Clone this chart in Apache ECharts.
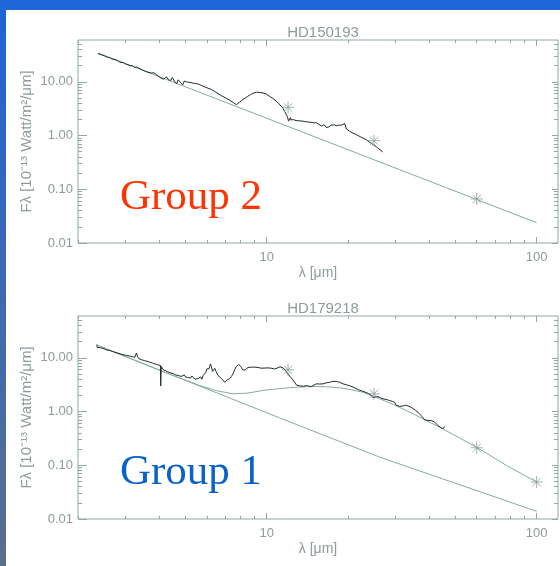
<!DOCTYPE html>
<html>
<head>
<meta charset="utf-8">
<script src="https://cdn.jsdelivr.net/npm/echarts@6/dist/echarts.min.js"></script>
<style>
  html, body { margin: 0; padding: 0; }
  #frame {
    position: relative; width: 560px; height: 566px; overflow: hidden;
    background: linear-gradient(to bottom, #1d63d7 0%, #3a68b8 45%, #5a6e8c 100%);
  }
  #topbar { position: absolute; left: 0; top: 0; width: 560px; height: 10px; background: #1e66d9; }
  #panel { position: absolute; left: 6px; top: 10px; width: 554px; height: 556px; background: #ffffff; }
  #chart { position: absolute; left: 0; top: 0; width: 560px; height: 566px; }
</style>
</head>
<body>
<div id="frame">
  <div id="topbar"></div>
  <div id="panel"></div>
  <div id="chart"></div>
</div>
<script>
// ---- axis ticks ----
const waveMajorTicks = [10, 100];
const waveMinorTicks = [2, 3, 4, 5, 6, 7, 8, 9, 20, 30, 40, 50, 60, 70, 80, 90];
const fluxMajorTicks = [0.01, 0.1, 1, 10];
const fluxMinorTicks = [0.02, 0.03, 0.04, 0.05, 0.06, 0.07, 0.08, 0.09,
  0.2, 0.3, 0.4, 0.5, 0.6, 0.7, 0.8, 0.9, 2, 3, 4, 5, 6, 7, 8, 9, 20, 30, 40, 50];

// ---- HD150193 (Group 2) ----
const hd150193SpecWave = [2.37, 2.41, 2.45, 2.49, 2.52, 2.57, 2.62, 2.67, 2.72, 2.76, 2.80, 2.86, 2.94, 3.00,
  3.05, 3.12, 3.18, 3.24, 3.30, 3.36, 3.40, 3.44, 3.48, 3.52, 3.56, 3.60, 3.66, 3.75, 3.82, 3.90, 3.95, 3.98,
  4.03, 4.07, 4.10, 4.13, 4.16, 4.19, 4.22, 4.25, 4.28, 4.30, 4.33, 4.36, 4.39, 4.41, 4.44, 4.47, 4.50, 4.52,
  4.55, 4.58, 4.61, 4.64, 4.67, 4.70, 4.73, 4.76, 4.79, 4.82, 4.86, 4.89, 4.92, 4.95, 4.98, 5.01, 5.05, 5.10,
  5.14, 5.19, 5.24, 5.30, 5.35, 5.41, 5.46, 5.52, 5.58, 5.65, 5.72, 5.80, 5.88, 5.98, 6.06, 6.15, 6.25, 6.42,
  6.52, 6.65, 6.76, 6.89, 7.00, 7.10, 7.20, 7.29, 7.40, 7.50, 7.62, 7.72, 7.85, 7.95, 8.06, 8.17, 8.33, 8.50,
  8.70, 8.90, 9.05, 9.16, 9.28, 9.40, 9.55, 9.69, 9.85, 10.0, 10.13, 10.26, 10.40, 10.55, 10.70, 10.86, 11.0,
  11.1, 11.2, 11.33, 11.5, 11.66, 11.85, 11.95, 12.05, 12.10, 12.17, 12.25, 12.30, 12.35, 12.45, 12.55, 12.7,
  12.85, 13.0, 13.2, 13.4, 13.55, 13.7, 13.85, 14.03, 14.2, 14.4, 14.6, 14.8, 15.0, 15.28, 15.45, 15.6, 15.8,
  16.0, 16.16, 16.3, 16.45, 16.6, 16.8, 17.0, 17.11, 17.3, 17.5, 17.8, 18.12, 18.35, 18.5, 18.8, 19.0, 19.2,
  19.45, 19.6, 19.74, 19.95, 20.3, 20.6, 20.87, 21.3, 21.8, 22.3, 22.74, 23.1, 23.4, 23.8, 24.08, 24.4, 24.8,
  25.2, 25.49, 25.8, 26.0, 26.2, 26.4, 26.6, 26.83];
const hd150193SpecFlux = [33.5, 32.2, 31.6, 30.2, 30.0, 28.6, 28.2, 26.6, 26.2, 24.9, 24.8, 23.2, 22.8, 21.5,
  21.4, 20.0, 20.0, 18.7, 18.9, 17.9, 18.4, 17.0, 17.6, 16.0, 16.2, 15.3, 15.6, 14.5, 14.8, 13.6, 14.0, 12.6,
  12.9, 11.6, 12.3, 12.6, 11.2, 10.8, 12.0, 12.4, 11.8, 12.6, 10.9, 10.1, 11.0, 10.6, 11.4, 12.0, 11.2, 11.6,
  10.3, 9.7, 10.1, 9.2, 10.0, 10.9, 10.1, 10.6, 9.8, 9.3, 9.9, 8.8, 9.5, 10.3, 10.6, 11.0, 10.0, 9.3,
  9.8, 9.1, 9.7, 10.0, 9.4, 9.7, 9.3, 9.0, 9.1, 8.5, 8.6, 8.1, 8.1, 7.5, 7.6, 7.2, 7.2, 6.6,
  6.5, 5.9, 5.8, 5.3, 5.2, 4.9, 4.8, 4.55, 4.4, 4.15, 3.95, 3.76, 3.95, 4.2, 4.45, 4.7, 5.0, 5.35,
  5.75, 6.1, 6.35, 6.4, 6.3, 6.35, 6.2, 6.2, 6.0, 5.85, 5.6, 5.35, 5.15, 4.9, 4.6, 4.35, 4.1,
  3.9, 3.7, 3.5, 3.2, 2.8, 2.4, 2.2, 1.85, 2.0, 1.8, 2.15, 1.95, 2.05, 1.92, 1.98, 1.95,
  1.9, 1.93, 1.88, 1.93, 1.86, 1.87, 1.82, 1.85, 1.79, 1.82, 1.76, 1.78, 1.72, 1.74, 1.66, 1.62, 1.66,
  1.5, 1.47, 1.6, 1.52, 1.42, 1.5, 1.44, 1.46, 1.56, 1.52, 1.58, 1.52, 1.6, 1.56, 1.62, 1.57, 1.65,
  1.68, 1.74, 1.32, 1.28, 1.2, 1.16, 1.11, 1.06, 1.0, 0.94, 0.9, 0.85, 0.83, 0.77, 0.75, 0.72, 0.68,
  0.66, 0.62, 0.60, 0.56, 0.58, 0.52, 0.53, 0.49];
const hd150193StarWave = [2.37, 10, 100];
const hd150193StarFlux = [34.5, 2.1, 0.0239];
const hd150193IrasWave = [12, 25, 60];
const hd150193IrasFlux = [3.35, 0.80, 0.066];

// ---- HD179218 (Group 1) ----
const hd179218SpecWave = [2.35, 2.355, 2.38, 2.42, 2.45, 2.50, 2.55, 2.62, 2.68, 2.74, 2.78, 2.86, 2.94, 3.02,
  3.10, 3.18, 3.245, 3.27, 3.293, 3.32, 3.365, 3.44, 3.52, 3.60, 3.686, 3.77, 3.86, 3.95, 4.04, 4.05, 4.055,
  4.065, 4.07, 4.12, 4.16, 4.2, 4.25, 4.30, 4.34, 4.372, 4.42, 4.46, 4.5, 4.55, 4.6, 4.65, 4.70, 4.762, 4.82,
  4.86, 4.9, 4.95, 5.0, 5.05, 5.10, 5.15, 5.186, 5.22, 5.28, 5.35, 5.42, 5.46, 5.5, 5.56, 5.648, 5.70, 5.75,
  5.82, 5.897, 5.96, 6.00, 6.065, 6.12, 6.19, 6.24, 6.30, 6.36, 6.42, 6.50, 6.60, 6.70, 6.80, 6.90, 6.99,
  7.08, 7.15, 7.22, 7.29, 7.40, 7.50, 7.61, 7.72, 7.80, 7.88, 7.97, 8.06, 8.14, 8.22, 8.31, 8.41, 8.53, 8.65,
  8.78, 8.9, 9.03, 9.16, 9.28, 9.4, 9.55, 9.69, 9.85, 10.0, 10.13, 10.26, 10.4, 10.55, 10.7, 10.86, 11.0,
  11.1, 11.2, 11.33, 11.5, 11.66, 11.8, 11.99, 12.15, 12.35, 12.5, 12.70, 12.9, 13.06, 13.25, 13.44, 13.7,
  14.03, 14.3, 14.64, 14.95, 15.28, 15.5, 15.7, 15.95, 16.16, 16.4, 16.6, 16.85, 17.11, 17.35, 17.60, 17.85,
  18.1, 18.35, 18.64, 18.9, 19.17, 19.45, 19.7, 20.0, 20.30, 20.6, 20.9, 21.2, 21.49, 21.8, 22.1, 22.4,
  22.74, 23.1, 23.4, 23.75, 24.08, 24.4, 24.76, 25.05, 25.3, 25.6, 25.84, 26.4, 26.96, 27.3, 27.7, 28.1,
  28.55, 29.2, 29.79, 30.2, 30.64, 31.1, 31.54, 32.1, 32.71, 33.3, 33.85, 34.3, 34.83, 35.6, 36.35, 37.1,
  37.93, 38.5, 39.05, 39.9, 40.74, 41.3, 41.91, 42.5, 43.10, 43.5, 44.0, 44.5, 44.98, 45.3, 45.63];
const hd179218SpecFlux = [17.8, 15.6, 16.4, 15.4, 15.0, 14.7, 14.0, 13.7, 13.2, 12.7, 12.5, 11.9, 11.4, 11.1,
  10.8, 10.5, 10.2, 11.0, 12.3, 10.6, 9.6, 9.2, 8.9, 8.6, 8.3, 8.0, 7.7, 7.4, 7.2, 3.0, 2.84,
  6.0, 6.9, 6.1, 6.3, 5.8, 5.7, 5.5, 5.8, 5.4, 5.2, 5.5, 5.1, 4.9, 4.8, 5.2, 4.7, 4.9, 4.5,
  4.3, 4.6, 4.8, 4.4, 4.6, 4.3, 4.1, 4.5, 4.2, 4.6, 4.4, 4.0, 4.3, 3.9, 4.1, 3.8, 4.4, 4.0,
  4.7, 4.6, 5.4, 6.2, 6.7, 6.3, 7.7, 6.9, 5.6, 5.9, 6.4, 5.5, 4.7, 4.4, 4.1, 3.8, 3.5,
  3.7, 3.9, 3.8, 4.1, 4.5, 5.0, 6.0, 6.9, 7.3, 7.5, 7.1, 6.7, 6.0, 5.6, 5.9, 6.3, 6.6, 6.9,
  6.7, 6.6, 6.7, 6.5, 6.6, 6.6, 6.4, 6.3, 6.45, 6.4, 6.5, 6.5, 6.4, 6.35, 6.2, 6.3, 6.5,
  6.6, 6.8, 6.9, 6.5, 6.0, 5.6, 5.0, 4.6, 4.2, 3.9, 3.5, 3.1, 2.85, 3.0, 3.05, 2.95,
  3.05, 2.97, 2.92, 3.1, 3.28, 3.2, 3.25, 3.3, 3.27, 3.36, 3.42, 3.5, 3.5, 3.62, 3.66, 3.58,
  3.63, 3.55, 3.5, 3.4, 3.28, 3.2, 3.15, 3.1, 3.02, 2.92, 2.85, 2.72, 2.65, 2.55, 2.5, 2.42,
  2.38, 2.3, 2.25, 2.18, 2.12, 1.96, 1.81, 1.86, 1.88, 1.93, 1.9, 1.8, 1.72, 1.7, 1.68, 1.64,
  1.6, 1.55, 1.48, 1.3, 1.21, 1.25, 1.23, 1.27, 1.31, 1.28, 1.3, 1.2, 1.13, 1.05, 0.97, 0.87,
  0.77, 0.7, 0.66, 0.68, 0.68, 0.65, 0.635, 0.59, 0.55, 0.53, 0.51, 0.5, 0.475, 0.5, 0.53];
const hd179218StarWave = [2.372, 11.17, 26.2, 100];
const hd179218StarFlux = [16.9, 0.761, 0.142, 0.0139];
const hd179218ModelWave = [2.372, 4.0, 5.0, 5.65, 6.5, 7.5, 8.5, 9.69, 11.2, 12.88, 14.84, 16.5, 18.64, 20.5,
  22.73, 26.2, 30, 34.8, 43.7, 59.8, 77.2, 100];
const hd179218ModelFlux = [16.9, 5.9, 3.85, 3.05, 2.45, 2.14, 2.2, 2.47, 2.68, 2.84, 2.93, 2.9, 2.77, 2.55,
  2.29, 1.73, 1.3, 0.91, 0.513, 0.218, 0.0996, 0.0487];
const hd179218IrasWave = [12, 25, 60, 100];
const hd179218IrasFlux = [5.98, 2.14, 0.212, 0.0487];

// ---- styling ----
const AXIS = '#8fa8a5';
const LABEL = '#8f9b9b';
const SPEC = '#1c2a28';
const MODEL = '#86a9a3';
const ASTERISK = 'path://M5 0L5 10M0 5L10 5M1.5 1.5L8.5 8.5M1.5 8.5L8.5 1.5';

const zip = (xs, ys) => xs.map((x, i) => [x, ys[i]]);

const grids = [
  { left: 78, right: 2, top: 40, height: 203 },
  { left: 78, right: 2, top: 316, height: 203 }
];

const xAxes = [];
const yAxes = [];
grids.forEach((g, gi) => {
  const baseX = { gridIndex: gi, type: 'log', logBase: 10, min: 2, max: 120,
    axisLine: { show: false }, splitLine: { show: false }, minorTick: { show: false } };
  const baseY = { gridIndex: gi, type: 'log', logBase: 10, min: 0.01, max: 60,
    axisLine: { show: false }, splitLine: { show: false }, minorTick: { show: false } };
  // bottom: major ticks + labels + axis name
  xAxes.push(Object.assign({}, baseX, {
    position: 'bottom',
    axisTick: { inside: true, length: 6, customValues: waveMajorTicks, lineStyle: { color: AXIS } },
    axisLabel: { customValues: waveMajorTicks, margin: 8, color: LABEL, fontSize: 13,
      fontFamily: 'Liberation Sans', formatter: v => String(Math.round(v)) },
    name: 'λ [μm]', nameLocation: 'middle', nameGap: 23, nameMoveOverlap: false,
    nameTextStyle: { color: LABEL, fontSize: 14, fontFamily: 'Liberation Sans' }
  }));
  xAxes.push(Object.assign({}, baseX, { position: 'bottom',
    axisTick: { inside: true, length: 3, customValues: waveMinorTicks, lineStyle: { color: AXIS } },
    axisLabel: { show: false } }));
  xAxes.push(Object.assign({}, baseX, { position: 'top',
    axisTick: { inside: true, length: 6, customValues: waveMajorTicks, lineStyle: { color: AXIS } },
    axisLabel: { show: false } }));
  xAxes.push(Object.assign({}, baseX, { position: 'top',
    axisTick: { inside: true, length: 3, customValues: waveMinorTicks, lineStyle: { color: AXIS } },
    axisLabel: { show: false } }));

  yAxes.push(Object.assign({}, baseY, {
    position: 'left',
    axisTick: { inside: true, length: 9, customValues: fluxMajorTicks, lineStyle: { color: AXIS } },
    axisLabel: { customValues: fluxMajorTicks, margin: 5, color: LABEL, fontSize: 13,
      fontFamily: 'Liberation Sans', formatter: v => Number(v).toFixed(2) },
    name: 'Fλ [10⁻¹³ Watt/m²/μm]', nameLocation: 'middle', nameRotate: 90, nameGap: 44,
    nameMoveOverlap: false,
    nameTextStyle: { color: LABEL, fontSize: 15, fontFamily: 'Liberation Sans' }
  }));
  yAxes.push(Object.assign({}, baseY, { position: 'left',
    axisTick: { inside: true, length: 4, customValues: fluxMinorTicks, lineStyle: { color: AXIS } },
    axisLabel: { show: false } }));
  yAxes.push(Object.assign({}, baseY, { position: 'right',
    axisTick: { inside: true, length: 6, customValues: fluxMajorTicks, lineStyle: { color: AXIS } },
    axisLabel: { show: false } }));
  yAxes.push(Object.assign({}, baseY, { position: 'right',
    axisTick: { inside: true, length: 4, customValues: fluxMinorTicks, lineStyle: { color: AXIS } },
    axisLabel: { show: false } }));
});

function line(gi, data, color, z) {
  return { type: 'line', xAxisIndex: gi * 4, yAxisIndex: gi * 4, data, showSymbol: false,
    symbol: 'none', silent: true, z, lineStyle: { color, width: 1 } };
}
function stars(gi, data) {
  return { type: 'scatter', xAxisIndex: gi * 4, yAxisIndex: gi * 4, data, symbol: ASTERISK,
    symbolSize: 12, silent: true, z: 5,
    itemStyle: { color: 'transparent', borderColor: '#8c9c9c', borderWidth: 1 } };
}

const chart = echarts.init(document.getElementById('chart'), null, { renderer: 'canvas' });
chart.setOption({
  backgroundColor: 'transparent',
  animation: false,
  title: [
    { text: 'HD150193', left: 318, top: 20, textAlign: 'center',
      textStyle: { color: LABEL, fontSize: 15, fontWeight: 'normal', fontFamily: 'Liberation Sans' } },
    { text: 'HD179218', left: 318, top: 296, textAlign: 'center',
      textStyle: { color: LABEL, fontSize: 15, fontWeight: 'normal', fontFamily: 'Liberation Sans' } }
  ],
  grid: grids.map(g => Object.assign({ show: true, borderColor: AXIS, borderWidth: 1,
    backgroundColor: 'transparent' }, g)),
  xAxis: xAxes,
  yAxis: yAxes,
  series: [
    line(0, zip(hd150193StarWave, hd150193StarFlux), MODEL, 2),
    line(0, zip(hd150193SpecWave, hd150193SpecFlux), SPEC, 3),
    stars(0, zip(hd150193IrasWave, hd150193IrasFlux)),
    line(1, zip(hd179218StarWave, hd179218StarFlux), MODEL, 2),
    line(1, zip(hd179218ModelWave, hd179218ModelFlux), MODEL, 2),
    line(1, zip(hd179218SpecWave, hd179218SpecFlux), SPEC, 3),
    stars(1, zip(hd179218IrasWave, hd179218IrasFlux))
  ],
  graphic: [
    { type: 'text', left: 120, top: 176, style: { text: 'Group 2', fill: '#ff3300',
      font: '43px "Liberation Serif"' } },
    { type: 'text', left: 120, top: 451, style: { text: 'Group 1', fill: '#0a62c9',
      font: '43px "Liberation Serif"' } }
  ]
});
</script>
</body>
</html>
